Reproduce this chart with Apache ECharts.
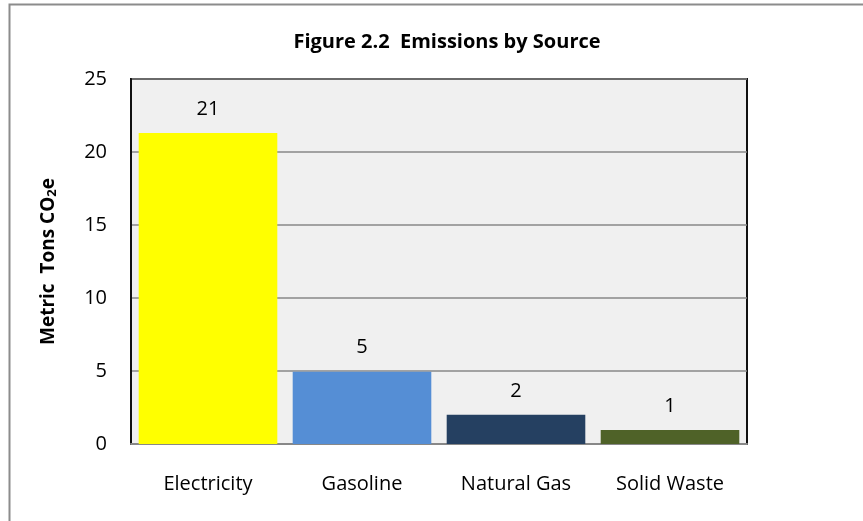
<!DOCTYPE html>
<html>
	<head>
		<meta charset="utf-8">
		<title>Emissions by Source</title>
		<style>
			html, body { margin: 0; padding: 0; background: #fff; }
			#chart { width: 863px; height: 521px; }
		</style>
	</head>
	<body>
		<div id="chart"></div>
		<script src="https://cdn.jsdelivr.net/npm/echarts@6/dist/echarts.min.js"></script>
		<script>
			// data
			var sources = ['Electricity', 'Gasoline', 'Natural Gas', 'Solid Waste'];
			var tons = [21.3, 4.95, 2.0, 0.96];
			var barColors = ['#ffff00', '#558ed5', '#254061', '#4f6228'];
			var yTicks = { min: 0, max: 25, interval: 5 };

			var font = 'Open Sans';
			var chart = echarts.init(document.getElementById('chart'));

			var option = {
				animation: false,
				title: {
					text: 'Figure 2.2  Emissions by Source',
					left: 442,
					textAlign: 'center',
					top: 27,
					textStyle: { fontFamily: font, fontSize: 20, fontWeight: 'bold', color: '#000' }
				},
				graphic: [{
					type: 'rect',
					shape: { x: 9.5, y: 4.5, width: 900, height: 600 },
					style: { fill: 'none', stroke: '#8c8c8c', lineWidth: 2 },
					silent: true
				}],
				grid: {
					left: 131, right: 116, top: 79, bottom: 77,
					show: true,
					backgroundColor: '#f0f0f0',
					borderColor: '#111',
					borderWidth: 2
				},
				xAxis: {
					type: 'category',
					data: sources,
					axisTick: { show: false },
					axisLine: { lineStyle: { color: '#888', width: 2 } },
					axisLabel: { margin: 30, fontFamily: font, fontSize: 20, color: '#000' }
				},
				yAxis: {
					type: 'value',
					min: yTicks.min,
					max: yTicks.max,
					interval: yTicks.interval,
					name: 'Metric  Tons CO{sub|2}e',
					nameLocation: 'middle',
					nameGap: 72,
					nameRotate: 90,
					nameTextStyle: {
						fontFamily: font, fontSize: 19, fontWeight: 'bold', color: '#000',
						rich: { sub: { fontFamily: font, fontSize: 13, fontWeight: 'bold', verticalAlign: 'bottom', padding: [8, 0, 0, 0] } }
					},
					axisLine: { show: true, lineStyle: { color: '#111', width: 2 } },
					axisTick: { show: false },
					axisLabel: { margin: 24, fontFamily: font, fontSize: 20, color: '#000' },
					splitLine: { lineStyle: { color: '#888', width: 1.5 } }
				},
				series: [{
					type: 'bar',
					barCategoryGap: '10%',
					data: tons.map(function(v, i) {
						return { value: v, itemStyle: { color: barColors[i] } };
					}),
					label: {
						show: true,
						position: 'top',
						distance: 14,
						fontFamily: font,
						fontSize: 20,
						color: '#000',
						formatter: function(p) { return Math.round(p.value); }
					}
				}]
			};
			chart.setOption(option);
		</script>
	</body>
</html>
